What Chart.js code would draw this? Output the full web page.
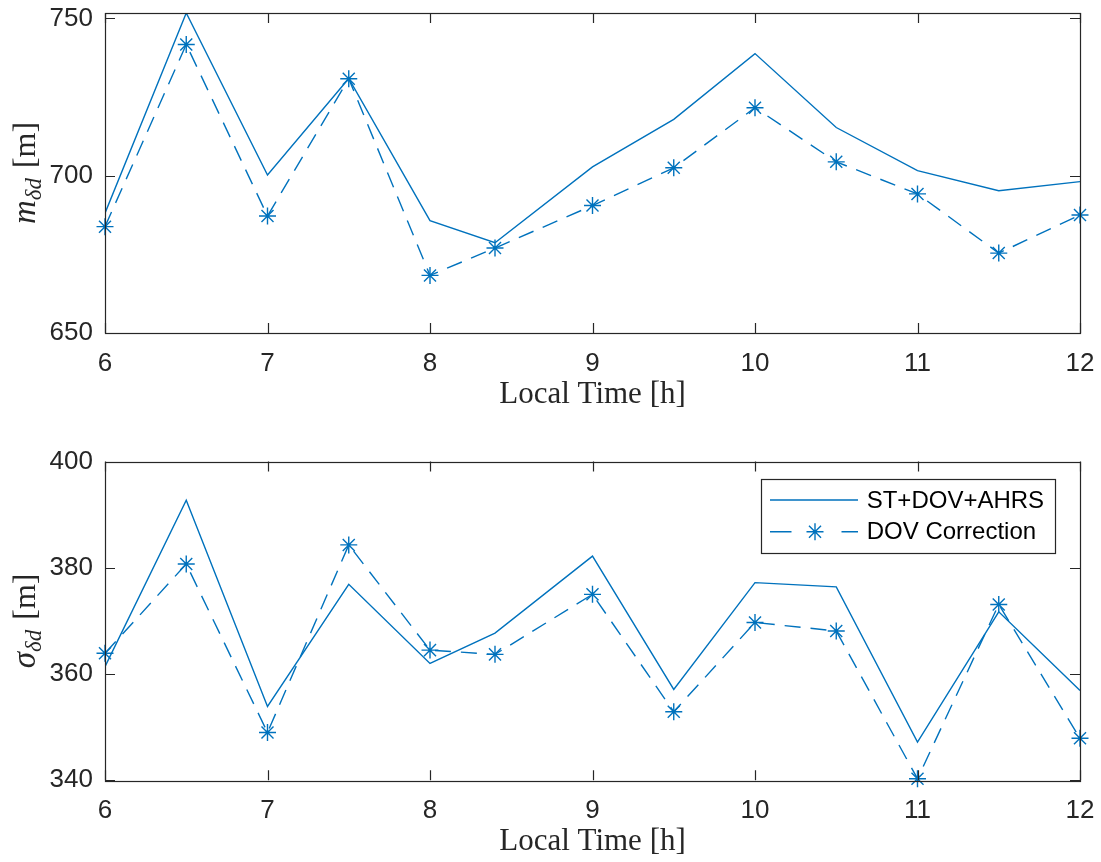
<!DOCTYPE html>
<html><head><meta charset="utf-8">
<script src="https://cdn.jsdelivr.net/npm/chart.js@4.4.1/dist/chart.umd.min.js"></script>
<style>html,body{margin:0;padding:0;background:#fff;} canvas{display:block;}</style>
</head><body>
<canvas id="c1" width="1101" height="431"></canvas>
<canvas id="c2" width="1101" height="431"></canvas>
<script>
// ---- data ----
const localTime = [6, 6.5, 7, 7.5, 8, 8.4, 9, 9.5, 10, 10.5, 11, 11.5, 12];
const meanSolid  = [688.1, 751.7, 700.2, 730.9, 685.7, 678.7, 702.8, 717.9, 738.8, 715.3, 701.6, 695.2, 698.1];
const meanDashed = [683.8, 741.7, 687.2, 730.8, 668.3, 677.0, 690.5, 702.5, 721.6, 704.4, 694.2, 675.4, 687.5];
const sigmaSolid  = [361.4, 392.7, 353.9, 376.9, 362.0, 367.7, 382.2, 357.1, 377.2, 376.4, 347.2, 371.7, 356.9];
const sigmaDashed = [363.9, 380.7, 349.0, 384.3, 364.5, 363.7, 375.0, 352.9, 369.7, 368.1, 340.3, 373.1, 347.9];
const xTicks = [6, 7, 8, 9, 10, 11, 12];
const meanYTicks = [650, 700, 750];
const sigmaYTicks = [340, 360, 380, 400];
const xRange = [6, 12];
const meanYRange = [650, 751.7];
const sigmaYRange = [340, 400];
const seriesNames = ['ST+DOV+AHRS', 'DOV Correction'];
const xTitle = 'Local Time [h]';

const BLUE = '#0072BD';
const AX = '#262626';
const DASH = [16, 10];

function pts(ys) { return localTime.map((x, i) => ({x: x, y: ys[i]})); }

const framePlugin = {
  id: 'frame',
  afterDraw(chart) {
    const ctx = chart.ctx, ca = chart.chartArea;
    const xs = chart.scales.x, ys = chart.scales.y;
    const o = chart.options.plugins.frame;
    ctx.save();
    ctx.strokeStyle = AX; ctx.lineWidth = 1.2; ctx.setLineDash([]);
    ctx.strokeRect(Math.round(ca.left) + 0.5, Math.round(ca.top) + 0.5,
                   Math.round(ca.right - ca.left), Math.round(ca.bottom - ca.top));
    const T = 10;
    ctx.beginPath();
    o.xTicks.forEach(v => {
      const p = Math.round(xs.getPixelForValue(v)) + 0.5;
      ctx.moveTo(p, ca.bottom); ctx.lineTo(p, ca.bottom - T);
      ctx.moveTo(p, ca.top); ctx.lineTo(p, ca.top + T);
    });
    o.yTicks.forEach(v => {
      const p = Math.round(ys.getPixelForValue(v)) + 0.5;
      ctx.moveTo(ca.left, p); ctx.lineTo(ca.left + T, p);
      ctx.moveTo(ca.right, p); ctx.lineTo(ca.right - T, p);
    });
    ctx.stroke();

    // x title
    ctx.fillStyle = AX;
    ctx.font = '31px "Liberation Serif"';
    ctx.textAlign = 'center'; ctx.textBaseline = 'alphabetic';
    ctx.fillText(xTitle, (ca.left + ca.right) / 2, ca.bottom + 70);

    // y title (rotated, with subscript)
    const lab = o.yLabel;
    const f1 = 'italic 33px "Liberation Serif"', f2 = 'italic 23px "Liberation Serif"', f3 = '32px "Liberation Serif"';
    ctx.textAlign = 'left';
    ctx.font = f1; const w1 = ctx.measureText(lab.main).width;
    ctx.font = f2; const w2 = ctx.measureText(lab.sub).width;
    ctx.font = f3; const w3 = ctx.measureText(lab.unit).width;
    const gap = 10;
    const total = w1 + w2 + gap + w3;
    ctx.translate(35, (ca.top + ca.bottom) / 2);
    ctx.rotate(-Math.PI / 2);
    let x = -total / 2;
    ctx.font = f1; ctx.fillText(lab.main, x, 0); x += w1;
    ctx.font = f2; ctx.fillText(lab.sub, x, 6); x += w2 + gap;
    ctx.font = f3; ctx.fillText(lab.unit, x, 0);
    ctx.restore();

    if (o.legend) {
      const L = ca.right - 319.3, Tp = ca.top + 17.8;
      ctx.save();
      ctx.fillStyle = '#fff';
      ctx.fillRect(L, Tp, 294.3, 74);
      ctx.strokeStyle = AX; ctx.lineWidth = 1.2;
      ctx.strokeRect(Math.round(L) + 0.5, Math.round(Tp) + 0.5, 294, 74);
      const r1 = ca.top + 38.5, r2 = ca.top + 70.2;
      ctx.strokeStyle = BLUE; ctx.lineWidth = 1.4;
      ctx.beginPath();
      ctx.moveTo(ca.right - 310, r1); ctx.lineTo(ca.right - 222, r1);
      ctx.moveTo(ca.right - 310, r2); ctx.lineTo(ca.right - 288.5, r2);
      ctx.moveTo(ca.right - 238.5, r2); ctx.lineTo(ca.right - 222, r2);
      ctx.stroke();
      Chart.helpers.drawPoint(ctx, {pointStyle: 'star', radius: 8.5, rotation: 0, borderWidth: 1.4}, ca.right - 265, r2);
      ctx.fillStyle = '#000';
      ctx.font = '24px "Liberation Sans"';
      ctx.textAlign = 'left'; ctx.textBaseline = 'middle';
      ctx.fillText(seriesNames[0], ca.right - 213.3, r1 + 1);
      ctx.fillText(seriesNames[1], ca.right - 213.3, r2 + 1);
      ctx.restore();
    }
  }
};

function makeChart(id, solid, dashed, yRange, yTicks, yLabel, padTop, xH, legend) {
  return new Chart(document.getElementById(id), {
    type: 'line',
    data: {
      datasets: [
        { label: seriesNames[0], data: pts(solid), borderColor: BLUE, borderWidth: 1.4,
          pointRadius: 0, tension: 0, fill: false },
        { label: seriesNames[1], data: pts(dashed), borderColor: BLUE, borderWidth: 1.4,
          borderDash: DASH, pointStyle: 'star', pointRadius: 8.5, pointBorderWidth: 1.4,
          pointBorderColor: BLUE, pointBackgroundColor: BLUE, tension: 0, fill: false, clip: false }
      ]
    },
    options: {
      responsive: false, animation: false, events: [],
      layout: { padding: { top: padTop, right: 21, left: 0, bottom: 0 } },
      plugins: { legend: { display: false }, tooltip: { enabled: false },
        frame: { xTicks: xTicks, yTicks: yTicks, yLabel: yLabel, legend: legend } },
      scales: {
        x: { type: 'linear', min: xRange[0], max: xRange[1],
          grid: { display: false, drawTicks: false }, border: { display: false },
          afterBuildTicks: s => { s.ticks = xTicks.map(v => ({value: v})); },
          afterFit: s => { s.height = xH; s.paddingLeft = 0; s.paddingRight = 0; s.paddingTop = 0; s.paddingBottom = 0; },
          ticks: { padding: 15, color: AX, font: { family: 'Liberation Sans', size: 26 }, maxRotation: 0, autoSkip: false } },
        y: { type: 'linear', min: yRange[0], max: yRange[1],
          grid: { display: false, drawTicks: false }, border: { display: false },
          afterBuildTicks: s => { s.ticks = yTicks.map(v => ({value: v})); },
          afterFit: s => { s.width = 105; s.paddingLeft = 0; s.paddingRight = 0; s.paddingTop = 0; s.paddingBottom = 0; },
          ticks: { padding: 12, color: AX, font: { family: 'Liberation Sans', size: 26 }, autoSkip: false } }
      }
    },
    plugins: [framePlugin]
  });
}

makeChart('c1', meanSolid, meanDashed, meanYRange, meanYTicks, {main: 'm', sub: 'δd', unit: '[m]'}, 13, 98, false);
makeChart('c2', sigmaSolid, sigmaDashed, sigmaYRange, sigmaYTicks, {main: 'σ', sub: 'δd', unit: '[m]'}, 30.5, 81.7, true);
</script>
</body></html>
